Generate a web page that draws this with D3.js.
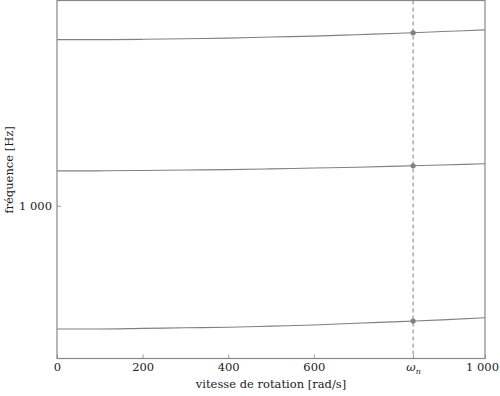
<!DOCTYPE html>
<html>
<head>
<meta charset="utf-8">
<script src="https://cdn.jsdelivr.net/npm/d3@7"></script>
<style>
  body { margin: 0; background: #fff; }
  svg text { font-family: "DejaVu Serif", serif !important; fill: #222; }
</style>
</head>
<body>
<div id="chart"></div>
<script>
// vitesse de rotation [rad/s]
var speeds = [0, 100, 200, 300, 400, 500, 600, 700, 800, 900, 1000];
// three frequency branches [Hz]
var mode1 = [750, 750, 751, 752, 753, 755, 757, 760, 763, 766, 770];
var mode2 = [1085, 1085, 1086, 1087, 1088, 1090, 1092, 1094, 1097, 1100, 1103];
var mode3 = [1474, 1474, 1475, 1477, 1479, 1483, 1486, 1491, 1496, 1502, 1508];
var omegaN = 832;
var xTicks = [0, 200, 400, 600, omegaN, 1000];
var xTickLabels = ["0", "200", "400", "600", "ω", "1 000"];
var yTicks = [1000];
var yTickLabels = ["1 000"];

var width = 500, height = 396,
    margin = {top: 0.5, right: 15, bottom: 37.5, left: 57};

var svg = d3.select("#chart").append("svg")
  .attr("width", width)
  .attr("height", height);

var x = d3.scaleLinear().domain([0, 1000]).range([margin.left, width - margin.right]);
var y = d3.scaleLog().domain([700, 1615]).range([height - margin.bottom, margin.top]);

var gray = "#808080";

// dashed line at omega_n
svg.append("line")
  .attr("x1", x(omegaN)).attr("x2", x(omegaN))
  .attr("y1", y.range()[1]).attr("y2", y.range()[0])
  .attr("stroke", gray)
  .attr("stroke-width", 1)
  .attr("stroke-dasharray", "4,3");

var line = d3.line()
  .x(function(d) { return x(d[0]); })
  .y(function(d) { return y(d[1]); })
  .curve(d3.curveMonotoneX);

[mode1, mode2, mode3].forEach(function(m) {
  svg.append("path")
    .datum(speeds.map(function(s, i) { return [s, m[i]]; }))
    .attr("fill", "none")
    .attr("stroke", gray)
    .attr("stroke-width", 1.1)
    .attr("d", line);

  // value at omega_n
  var v = d3.scaleLinear().domain(speeds).range(m)(omegaN);
  svg.append("circle")
    .attr("cx", x(omegaN))
    .attr("cy", y(v))
    .attr("r", 2.6)
    .attr("fill", gray);
});

// axes (ticks point inwards)
var xAxis = svg.append("g")
  .attr("transform", "translate(0," + y.range()[0] + ")")
  .call(d3.axisBottom(x).tickValues(xTicks).tickSizeInner(-4).tickSizeOuter(0)
    .tickFormat(function(d, i) { return xTickLabels[i]; }));
xAxis.select(".domain").remove();
xAxis.selectAll(".tick line").attr("stroke", "#999");
xAxis.selectAll(".tick text")
  .attr("y", 4)
  .style("font-size", "11.5px");
xAxis.selectAll(".tick text").filter(function(d) { return d === 1000; })
  .attr("dx", -3);
xAxis.selectAll(".tick text").filter(function(d) { return d === omegaN; })
  .style("font-style", "italic")
  .append("tspan").attr("dy", 3).style("font-size", "8px").text("n");

var yAxis = svg.append("g")
  .attr("transform", "translate(" + x.range()[0] + ",0)")
  .call(d3.axisLeft(y).tickValues(yTicks).tickSizeInner(-4).tickSizeOuter(0)
    .tickFormat(function(d, i) { return yTickLabels[i]; }));
yAxis.select(".domain").remove();
yAxis.selectAll(".tick line").attr("stroke", "#999");
yAxis.selectAll(".tick text")
  .attr("x", -5)
  .style("font-size", "11.5px");

// frame
svg.append("rect")
  .attr("x", x.range()[0])
  .attr("y", y.range()[1])
  .attr("width", x.range()[1] - x.range()[0])
  .attr("height", y.range()[0] - y.range()[1])
  .attr("fill", "none")
  .attr("stroke", "#888")
  .attr("stroke-width", 1.2);

svg.append("text")
  .attr("x", (x.range()[0] + x.range()[1]) / 2)
  .attr("y", 388)
  .attr("text-anchor", "middle")
  .style("font-size", "11.5px")
  .text("vitesse de rotation [rad/s]");

svg.append("text")
  .attr("transform", "translate(13,170) rotate(-90)")
  .attr("text-anchor", "middle")
  .style("font-size", "11.5px")
  .text("fréquence [Hz]");
</script>
</body>
</html>
